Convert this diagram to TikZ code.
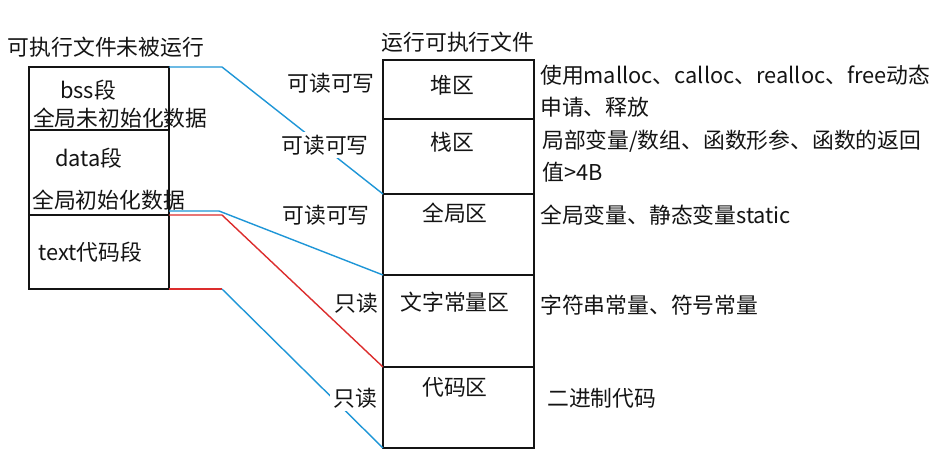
\documentclass[tikz,border=0pt]{standalone}
\usepackage{fontspec}
\newfontfamily\cjk{Noto Sans CJK SC}
\usetikzlibrary{positioning}
\definecolor{linkblue}{RGB}{30,150,215}
\definecolor{linkred}{RGB}{220,45,45}
\definecolor{ink}{RGB}{20,20,20}

\begin{document}
\begin{tikzpicture}[
  x=1pt, y=-1pt,
  font=\cjk\fontsize{21.8}{32}\selectfont,
  text=ink,
  cell/.style={draw=ink,line width=1.6pt,inner sep=0pt,outer sep=0pt},
  lcell/.style={cell,minimum width=140pt},
  rcell/.style={cell,minimum width=151pt},
  tag/.style={fill=white,inner sep=3pt},
  note/.style={anchor=west,align=left,inner sep=0pt},
  bluelink/.style={draw=linkblue,line width=1.4pt},
  redlink/.style={draw=linkred,line width=1.4pt},
]
\fill[white,use as bounding box] (0,0) rectangle (940,459);

% the file on disk, not yet run
\node (filetitle) at (106,47) {可执行文件未被运行};
\node[lcell,minimum height=63pt] (bss) at (99,98.5) {};
\node[lcell,minimum height=85pt,below=0pt of bss] (data) {};
\node[lcell,minimum height=74pt,below=0pt of data] (text) {};

\node (bsslbl) at (88,90) {bss段};
\node[note] (bssdesc) at (33,118) {全局未初始化数据};
\node (datalbl) at (89,158) {data段};
\node[note] (datadesc) at (32,200) {全局初始化数据};
\node[note] (textlbl) at (38,252) {text代码段};

% the running program's memory
\node (runtitle) at (458,42) {运行可执行文件};
\node[rcell,minimum height=59pt] (heap) at (458.5,89.5) {};
\node[rcell,minimum height=75pt,below=0pt of heap] (stack) {};
\node[rcell,minimum height=81pt,below=0pt of stack] (global) {};
\node[rcell,minimum height=92pt,below=0pt of global] (const) {};
\node[rcell,minimum height=81pt,below=0pt of const] (code) {};

\node (heaplbl) at (452,85) {堆区};
\node (stacklbl) at (452,142) {栈区};
\node (globallbl) at (455,213) {全局区};
\node (constlbl) at (455,302) {文字常量区};
\node (codelbl) at (455,387) {代码区};

% what each region holds
\node[note] (heapnote) at (540,91) {使用malloc、calloc、realloc、free动态\\申请、释放};
\node[note] (stacknote) at (542,156) {局部变量/数组、函数形参、函数的返回\\值>4B};
\node[note] (globalnote) at (540,215) {全局变量、静态变量static};
\node[note] (constnote) at (540,305) {字符串常量、符号常量};
\node[note] (codenote) at (547,398) {二进制代码};

% segments of the file mapped onto the regions
\draw[bluelink] (bss.north east) -- ++(53,0) -- (global.north west);
\draw[bluelink] ([yshift=4pt]data.south east) -- ++(50,0) -- (const.north west);
\draw[redlink] (data.south east) -- ++(53,0) -- (const.south west);
\draw[redlink] (text.south east) -- ++(53,0) coordinate (textbend);
\draw[bluelink] (textbend) -- (code.south west);

% access rights
\node[tag] (rwheap) at (331,83) {可读可写};
\node[tag] (rwstack) at (325,145) {可读可写};
\node[tag] (rwglobal) at (326,215) {可读可写};
\node[tag] (roconst) at (356,303) {只读};
\node[tag] (rocode) at (355,398) {只读};

\end{tikzpicture}
\end{document}
